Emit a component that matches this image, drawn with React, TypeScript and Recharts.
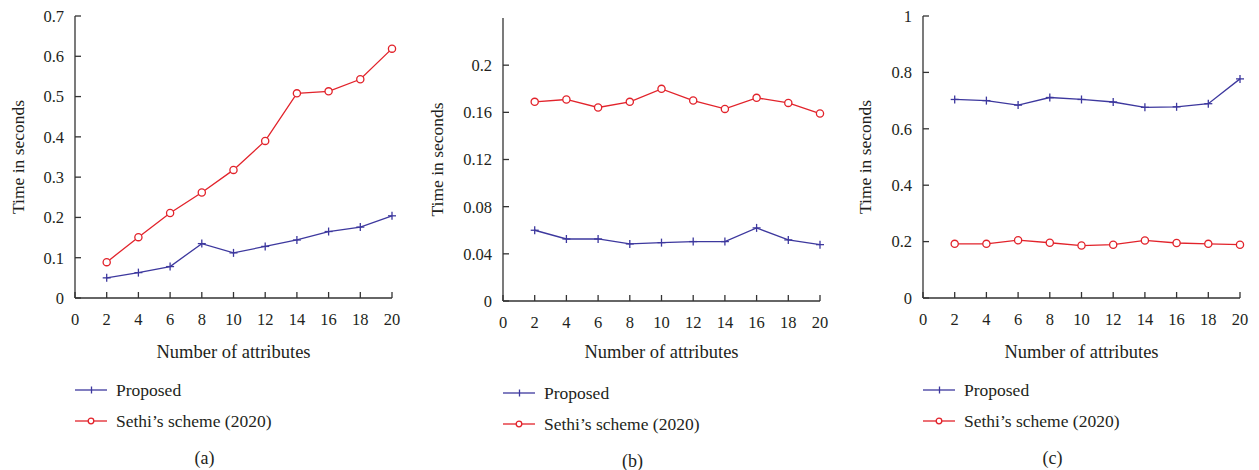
import { LineChart, Line, XAxis, YAxis } from 'recharts'

const attributes = [2, 4, 6, 8, 10, 12, 14, 16, 18, 20]
const xTicks = [0, 2, 4, 6, 8, 10, 12, 14, 16, 18, 20]

// (a)
const proposedA = [0.05, 0.063, 0.078, 0.135, 0.112, 0.128, 0.144, 0.165, 0.176, 0.204]
const sethiA = [0.089, 0.151, 0.211, 0.262, 0.318, 0.39, 0.508, 0.513, 0.543, 0.619]
const yTicksA = [0, 0.1, 0.2, 0.3, 0.4, 0.5, 0.6, 0.7]

// (b)
const proposedB = [0.06, 0.0526, 0.0526, 0.0484, 0.0495, 0.0504, 0.0504, 0.062, 0.0518, 0.0478]
const sethiB = [0.1689, 0.1709, 0.1641, 0.1689, 0.1799, 0.17, 0.1629, 0.1723, 0.168, 0.159]
const yTicksB = [0, 0.04, 0.08, 0.12, 0.16, 0.2]

// (c)
const proposedC = [0.704, 0.7, 0.684, 0.711, 0.704, 0.695, 0.676, 0.678, 0.689, 0.777]
const sethiC = [0.192, 0.192, 0.205, 0.196, 0.186, 0.189, 0.204, 0.195, 0.192, 0.189]
const yTicksC = [0, 0.2, 0.4, 0.6, 0.8, 1]

const BLUE = '#3d389e'
const RED = '#e2232b'
const INK = '#231f20'
const FRAME = '#333'
const FONT = '"Liberation Serif", "DejaVu Serif", serif'

const axisLine = { stroke: FRAME, strokeWidth: 1.3 }
const tickText = { fill: INK, fontSize: 16.5, fontFamily: FONT }

function PlusDot(props: any) {
  const { cx, cy } = props
  if (cx == null || cy == null) return null
  return (
    <g stroke={BLUE} strokeWidth={1.3}>
      <line x1={cx - 4} y1={cy} x2={cx + 4} y2={cy} />
      <line x1={cx} y1={cy - 4} x2={cx} y2={cy + 4} />
    </g>
  )
}

function CircleDot(props: any) {
  const { cx, cy } = props
  if (cx == null || cy == null) return null
  return <circle cx={cx} cy={cy} r={3.6} fill="#fff" stroke={RED} strokeWidth={1.3} />
}

type PanelProps = {
  left: number
  proposed: number[]
  sethi: number[]
  yTicks: number[]
  yMax: number
  plot: { l: number; r: number; t: number; b: number }
  yLabelX: number
  caption: string
}

const W = 420
const H = 380

function Panel({ left, proposed, sethi, yTicks, yMax, plot, yLabelX, caption }: PanelProps) {
  const data = attributes.map((a, i) => ({ a, proposed: proposed[i], sethi: sethi[i] }))
  const centre = (plot.l + plot.r) / 2
  const legendTop = plot.b + 82
  return (
    <div style={{ position: 'absolute', left, top: 0, width: W, height: 470 }}>
      <LineChart
        width={W}
        height={H}
        data={data}
        margin={{ top: plot.t, right: W - plot.r, bottom: 0, left: 0 }}
      >
        <XAxis
          xAxisId="bottom"
          dataKey="a"
          type="number"
          domain={[0, 20]}
          ticks={xTicks}
          interval={0}
          height={H - plot.b}
          tickSize={-6}
          tickMargin={21}
          axisLine={axisLine}
          tickLine={axisLine}
          tick={tickText}
          label={{
            value: 'Number of attributes',
            position: 'insideBottom',
            offset: 22,
            fill: INK,
            fontSize: 18.5,
            fontFamily: FONT,
          }}
        />
        <XAxis
          xAxisId="top"
          orientation="top"
          dataKey="a"
          type="number"
          domain={[0, 20]}
          ticks={xTicks}
          interval={0}
          height={0}
          tickSize={-6}
          axisLine={axisLine}
          tickLine={axisLine}
          tick={false}
        />
        <YAxis
          yAxisId="left"
          type="number"
          domain={[0, yMax]}
          ticks={yTicks}
          interval={0}
          width={plot.l}
          tickSize={-6}
          tickMargin={17}
          axisLine={axisLine}
          tickLine={axisLine}
          tick={tickText}
          label={{
            value: 'Time in seconds',
            angle: -90,
            position: 'insideLeft',
            offset: yLabelX,
            style: { textAnchor: 'middle' },
            fill: INK,
            fontSize: 17.5,
            fontFamily: FONT,
          }}
        />
        <YAxis
          yAxisId="right"
          orientation="right"
          type="number"
          domain={[0, yMax]}
          ticks={yTicks}
          interval={0}
          width={0}
          tickSize={-6}
          axisLine={axisLine}
          tickLine={axisLine}
          tick={false}
        />
        <Line
          xAxisId="bottom"
          yAxisId="left"
          dataKey="proposed"
          stroke={BLUE}
          strokeWidth={1.3}
          dot={<PlusDot />}
          activeDot={false}
          isAnimationActive={false}
        />
        <Line
          xAxisId="bottom"
          yAxisId="left"
          dataKey="sethi"
          stroke={RED}
          strokeWidth={1.3}
          dot={<CircleDot />}
          activeDot={false}
          isAnimationActive={false}
        />
      </LineChart>

      <div style={{ position: 'absolute', left: plot.l, top: legendTop, fontFamily: FONT, fontSize: 17.5, color: INK }}>
        <div style={{ display: 'flex', alignItems: 'center', height: 20, marginBottom: 11 }}>
          <svg width={32} height={12} style={{ marginRight: 9 }}>
            <line x1={0} y1={6} x2={32} y2={6} stroke={BLUE} strokeWidth={1.3} />
            <line x1={16.5} y1={2.5} x2={16.5} y2={9.5} stroke={BLUE} strokeWidth={1.3} />
          </svg>
          <span>Proposed</span>
        </div>
        <div style={{ display: 'flex', alignItems: 'center', height: 20 }}>
          <svg width={32} height={12} style={{ marginRight: 9 }}>
            <line x1={0} y1={6} x2={32} y2={6} stroke={RED} strokeWidth={1.3} />
            <circle cx={16} cy={6} r={2.8} fill="#fff" stroke={RED} strokeWidth={1.3} />
          </svg>
          <span>Sethi’s scheme (2020)</span>
        </div>
      </div>

      <div
        style={{
          position: 'absolute',
          left: centre - 29 - 30,
          width: 60,
          top: plot.b + 150,
          textAlign: 'center',
          fontFamily: FONT,
          fontSize: 18,
          color: INK,
        }}
      >
        {caption}
      </div>
    </div>
  )
}

export default function App() {
  return (
    <div style={{ position: 'absolute', left: 0, top: 0, width: 1259, height: 470, background: '#fff' }}>
      <Panel
        left={0}
        proposed={proposedA}
        sethi={sethiA}
        yTicks={yTicksA}
        yMax={0.7}
        plot={{ l: 75, r: 392, t: 16, b: 298 }}
        yLabelX={18}
        caption="(a)"
      />
      <Panel
        left={420}
        proposed={proposedB}
        sethi={sethiB}
        yTicks={yTicksB}
        yMax={0.24}
        plot={{ l: 83, r: 400, t: 18, b: 301 }}
        yLabelX={17}
        caption="(b)"
      />
      <Panel
        left={840}
        proposed={proposedC}
        sethi={sethiC}
        yTicks={yTicksC}
        yMax={1}
        plot={{ l: 83, r: 400, t: 16, b: 298 }}
        yLabelX={25}
        caption="(c)"
      />
    </div>
  )
}
